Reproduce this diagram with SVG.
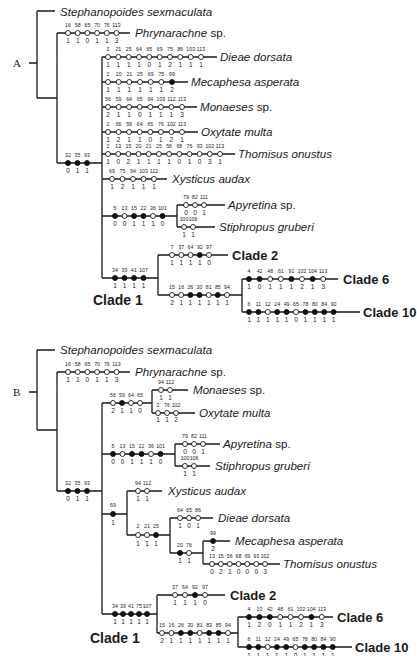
<svg xmlns="http://www.w3.org/2000/svg" width="417" height="656" viewBox="0 0 417 656">
<style>
.ln{stroke:#1a1a1a;stroke-width:1.3;fill:none}
.o{fill:#fff;stroke:#1a1a1a;stroke-width:0.9}
.f{fill:#111;stroke:#111;stroke-width:0.9}
text{font-family:"Liberation Sans",Arial,sans-serif;fill:#1a1a1a}
.n{font-size:5.2px;text-anchor:middle}
.v{font-size:6.5px;text-anchor:middle}
.t{font-size:11.6px;font-style:italic}
.c{font-size:13px;font-weight:bold}
.c1{font-size:14px;font-weight:bold}
.lab{font-family:"Liberation Serif","Times New Roman",serif;font-size:11px}
</style>
<rect width="417" height="656" fill="#fff"/>

<!-- ================= TREE A ================= -->
<g id="A-connectors">
<path class="ln" d="M29 63H37M37 11V98M37 11H55M37 98H57M57 33V163M57 33H130M102 57V278M57 163H102
M102 57H217M102 82H188M102 107H197M102 132H198M102 154H235M102 179H167
M102 216H177M177 205V227M177 205H225M177 227H215
M102 278H158M158 255V295M158 255H228M158 295H242M242 279V312M242 279H338M242 312H360"/>
</g>
<text class="lab" x="13" y="67">A</text>

<g id="A-stephanopoides"><text class="t" x="60" y="15.5">Stephanopoides sexmaculata</text></g>

<g id="A-phrynarachne">
<circle class="o" cx="68" cy="33" r="2.5"/><circle class="o" cx="77.7" cy="33" r="2.5"/><circle class="o" cx="87.4" cy="33" r="2.5"/><circle class="o" cx="97.1" cy="33" r="2.5"/><circle class="o" cx="106.8" cy="33" r="2.5"/><circle class="o" cx="116.5" cy="33" r="2.5"/>
<text class="n" y="27"><tspan x="68">16</tspan><tspan x="77.7">58</tspan><tspan x="87.4">65</tspan><tspan x="97.1">70</tspan><tspan x="106.8">76</tspan><tspan x="116.5">113</tspan></text>
<text class="v" y="43"><tspan x="68">1</tspan><tspan x="77.7">1</tspan><tspan x="87.4">0</tspan><tspan x="97.1">1</tspan><tspan x="106.8">1</tspan><tspan x="116.5">3</tspan></text>
<text class="t" x="135" y="37"><tspan>Phrynarachne</tspan><tspan font-style="normal"> sp.</tspan></text>
</g>

<g id="A-dieae">
<circle class="o" cx="108" cy="57" r="2.5"/><circle class="o" cx="118.3" cy="57" r="2.5"/><circle class="o" cx="128.7" cy="57" r="2.5"/><circle class="o" cx="139" cy="57" r="2.5"/><circle class="o" cx="149.3" cy="57" r="2.5"/><circle class="o" cx="159.7" cy="57" r="2.5"/><circle class="o" cx="170" cy="57" r="2.5"/><circle class="o" cx="180.3" cy="57" r="2.5"/><circle class="o" cx="190.7" cy="57" r="2.5"/><circle class="o" cx="201" cy="57" r="2.5"/>
<text class="n" y="51"><tspan x="108">2</tspan><tspan x="118.3">21</tspan><tspan x="128.7">25</tspan><tspan x="139">64</tspan><tspan x="149.3">65</tspan><tspan x="159.7">69</tspan><tspan x="170">75</tspan><tspan x="180.3">86</tspan><tspan x="190.7">103</tspan><tspan x="201">113</tspan></text>
<text class="v" y="67"><tspan x="108">1</tspan><tspan x="118.3">1</tspan><tspan x="128.7">1</tspan><tspan x="139">1</tspan><tspan x="149.3">0</tspan><tspan x="159.7">1</tspan><tspan x="170">2</tspan><tspan x="180.3">1</tspan><tspan x="190.7">1</tspan><tspan x="201">1</tspan></text>
<text class="t" x="220" y="61">Dieae dorsata</text>
</g>

<g id="A-mecaphesa">
<circle class="o" cx="108" cy="82" r="2.5"/><circle class="o" cx="118.7" cy="82" r="2.5"/><circle class="o" cx="129.3" cy="82" r="2.5"/><circle class="o" cx="140" cy="82" r="2.5"/><circle class="o" cx="150.7" cy="82" r="2.5"/><circle class="o" cx="161.3" cy="82" r="2.5"/><circle class="f" cx="172" cy="82" r="2.5"/>
<text class="n" y="76"><tspan x="108">2</tspan><tspan x="118.7">20</tspan><tspan x="129.3">21</tspan><tspan x="140">25</tspan><tspan x="150.7">69</tspan><tspan x="161.3">75</tspan><tspan x="172">99</tspan></text>
<text class="v" y="92"><tspan x="108">1</tspan><tspan x="118.7">1</tspan><tspan x="129.3">1</tspan><tspan x="140">1</tspan><tspan x="150.7">1</tspan><tspan x="161.3">1</tspan><tspan x="172">2</tspan></text>
<text class="t" x="191" y="86">Mecaphesa asperata</text>
</g>

<g id="A-monaeses">
<circle class="o" cx="108" cy="107" r="2.5"/><circle class="o" cx="118.6" cy="107" r="2.5"/><circle class="o" cx="129.1" cy="107" r="2.5"/><circle class="o" cx="139.7" cy="107" r="2.5"/><circle class="o" cx="150.3" cy="107" r="2.5"/><circle class="o" cx="160.9" cy="107" r="2.5"/><circle class="o" cx="171.4" cy="107" r="2.5"/><circle class="o" cx="182" cy="107" r="2.5"/>
<text class="n" y="101"><tspan x="108">56</tspan><tspan x="118.6">59</tspan><tspan x="129.1">64</tspan><tspan x="139.7">65</tspan><tspan x="150.3">94</tspan><tspan x="160.9">103</tspan><tspan x="171.4">112</tspan><tspan x="182">113</tspan></text>
<text class="v" y="117"><tspan x="108">2</tspan><tspan x="118.6">1</tspan><tspan x="129.1">1</tspan><tspan x="139.7">0</tspan><tspan x="150.3">1</tspan><tspan x="160.9">1</tspan><tspan x="171.4">1</tspan><tspan x="182">3</tspan></text>
<text class="t" x="200" y="111"><tspan>Monaeses</tspan><tspan font-style="normal"> sp.</tspan></text>
</g>

<g id="A-oxytate">
<circle class="o" cx="108" cy="132" r="2.5"/><circle class="o" cx="118.6" cy="132" r="2.5"/><circle class="o" cx="129.1" cy="132" r="2.5"/><circle class="o" cx="139.7" cy="132" r="2.5"/><circle class="o" cx="150.3" cy="132" r="2.5"/><circle class="o" cx="160.9" cy="132" r="2.5"/><circle class="o" cx="171.4" cy="132" r="2.5"/><circle class="o" cx="182" cy="132" r="2.5"/>
<text class="n" y="126"><tspan x="108">2</tspan><tspan x="118.6">56</tspan><tspan x="129.1">59</tspan><tspan x="139.7">64</tspan><tspan x="150.3">65</tspan><tspan x="160.9">76</tspan><tspan x="171.4">102</tspan><tspan x="182">113</tspan></text>
<text class="v" y="142"><tspan x="108">1</tspan><tspan x="118.6">2</tspan><tspan x="129.1">1</tspan><tspan x="139.7">1</tspan><tspan x="150.3">0</tspan><tspan x="160.9">1</tspan><tspan x="171.4">2</tspan><tspan x="182">1</tspan></text>
<text class="t" x="201" y="136">Oxytate multa</text>
</g>

<g id="A-thomisus">
<circle class="o" cx="108" cy="154" r="2.5"/><circle class="o" cx="118.2" cy="154" r="2.5"/><circle class="o" cx="128.4" cy="154" r="2.5"/><circle class="o" cx="138.5" cy="154" r="2.5"/><circle class="o" cx="148.7" cy="154" r="2.5"/><circle class="o" cx="158.9" cy="154" r="2.5"/><circle class="o" cx="169.1" cy="154" r="2.5"/><circle class="o" cx="179.3" cy="154" r="2.5"/><circle class="o" cx="189.5" cy="154" r="2.5"/><circle class="o" cx="199.6" cy="154" r="2.5"/><circle class="o" cx="209.8" cy="154" r="2.5"/><circle class="o" cx="220" cy="154" r="2.5"/>
<text class="n" y="148"><tspan x="108">2</tspan><tspan x="118.2">13</tspan><tspan x="128.4">15</tspan><tspan x="138.5">20</tspan><tspan x="148.7">21</tspan><tspan x="158.9">25</tspan><tspan x="169.1">56</tspan><tspan x="179.3">68</tspan><tspan x="189.5">76</tspan><tspan x="199.6">93</tspan><tspan x="209.8">102</tspan><tspan x="220">113</tspan></text>
<text class="v" y="164"><tspan x="108">1</tspan><tspan x="118.2">0</tspan><tspan x="128.4">2</tspan><tspan x="138.5">1</tspan><tspan x="148.7">1</tspan><tspan x="158.9">1</tspan><tspan x="169.1">1</tspan><tspan x="179.3">0</tspan><tspan x="189.5">1</tspan><tspan x="199.6">0</tspan><tspan x="209.8">3</tspan><tspan x="220">1</tspan></text>
<text class="t" x="238" y="158">Thomisus onustus</text>
</g>

<g id="A-node-32-35-93">
<circle class="f" cx="68" cy="163" r="2.5"/><circle class="f" cx="77.5" cy="163" r="2.5"/><circle class="f" cx="87" cy="163" r="2.5"/>
<text class="n" y="157"><tspan x="68">32</tspan><tspan x="77.5">35</tspan><tspan x="87">93</tspan></text>
<text class="v" y="173"><tspan x="68">0</tspan><tspan x="77.5">1</tspan><tspan x="87">1</tspan></text>
</g>

<g id="A-xysticus">
<circle class="o" cx="112" cy="179" r="2.5"/><circle class="o" cx="122.5" cy="179" r="2.5"/><circle class="o" cx="133" cy="179" r="2.5"/><circle class="o" cx="143.5" cy="179" r="2.5"/><circle class="o" cx="154" cy="179" r="2.5"/>
<text class="n" y="173"><tspan x="112">69</tspan><tspan x="122.5">75</tspan><tspan x="133">94</tspan><tspan x="143.5">103</tspan><tspan x="154">112</tspan></text>
<text class="v" y="189"><tspan x="112">1</tspan><tspan x="122.5">2</tspan><tspan x="133">1</tspan><tspan x="143.5">1</tspan><tspan x="154">1</tspan></text>
<text class="t" x="172" y="183">Xysticus audax</text>
</g>

<g id="A-node-5-101">
<circle class="f" cx="115" cy="216" r="2.5"/><circle class="o" cx="124.5" cy="216" r="2.5"/><circle class="f" cx="134" cy="216" r="2.5"/><circle class="f" cx="143.5" cy="216" r="2.5"/><circle class="o" cx="153" cy="216" r="2.5"/><circle class="f" cx="162.5" cy="216" r="2.5"/>
<text class="n" y="210"><tspan x="115">5</tspan><tspan x="124.5">13</tspan><tspan x="134">15</tspan><tspan x="143.5">22</tspan><tspan x="153">36</tspan><tspan x="162.5">101</tspan></text>
<text class="v" y="226"><tspan x="115">0</tspan><tspan x="124.5">0</tspan><tspan x="134">1</tspan><tspan x="143.5">1</tspan><tspan x="153">1</tspan><tspan x="162.5">0</tspan></text>
</g>

<g id="A-apyretina">
<circle class="o" cx="186" cy="205" r="2.5"/><circle class="o" cx="195" cy="205" r="2.5"/><circle class="o" cx="204" cy="205" r="2.5"/>
<text class="n" y="199"><tspan x="186">79</tspan><tspan x="195">82</tspan><tspan x="204">111</tspan></text>
<text class="v" y="215"><tspan x="186">0</tspan><tspan x="195">0</tspan><tspan x="204">1</tspan></text>
<text class="t" x="228" y="209"><tspan>Apyretina</tspan><tspan font-style="normal"> sp.</tspan></text>
</g>

<g id="A-stiphropus">
<circle class="o" cx="184" cy="227" r="2.5"/><circle class="o" cx="193" cy="227" r="2.5"/>
<text class="n" y="221"><tspan x="184">100</tspan><tspan x="193">106</tspan></text>
<text class="v" y="237"><tspan x="184">1</tspan><tspan x="193">1</tspan></text>
<text class="t" x="219" y="231">Stiphropus gruberi</text>
</g>

<g id="A-clade1">
<circle class="f" cx="115" cy="278" r="2.5"/><circle class="f" cx="124.5" cy="278" r="2.5"/><circle class="f" cx="134" cy="278" r="2.5"/><circle class="f" cx="143.5" cy="278" r="2.5"/>
<text class="n" y="272"><tspan x="115">34</tspan><tspan x="124.5">39</tspan><tspan x="134">41</tspan><tspan x="143.5">107</tspan></text>
<text class="v" y="288"><tspan x="115">1</tspan><tspan x="124.5">1</tspan><tspan x="134">1</tspan><tspan x="143.5">1</tspan></text>
<text class="c1" x="93" y="305">Clade 1</text>
</g>

<g id="A-clade2">
<circle class="o" cx="172" cy="255" r="2.5"/><circle class="o" cx="181.3" cy="255" r="2.5"/><circle class="o" cx="190.5" cy="255" r="2.5"/><circle class="f" cx="199.8" cy="255" r="2.5"/><circle class="o" cx="209" cy="255" r="2.5"/>
<text class="n" y="249"><tspan x="172">7</tspan><tspan x="181.3">37</tspan><tspan x="190.5">64</tspan><tspan x="199.8">92</tspan><tspan x="209">97</tspan></text>
<text class="v" y="265"><tspan x="172">1</tspan><tspan x="181.3">1</tspan><tspan x="190.5">1</tspan><tspan x="199.8">1</tspan><tspan x="209">0</tspan></text>
<text class="c" x="232" y="259.7">Clade 2</text>
</g>

<g id="A-node-15-94">
<circle class="o" cx="172" cy="295" r="2.5"/><circle class="o" cx="181.2" cy="295" r="2.5"/><circle class="f" cx="190.3" cy="295" r="2.5"/><circle class="f" cx="199.5" cy="295" r="2.5"/><circle class="o" cx="208.7" cy="295" r="2.5"/><circle class="f" cx="217.8" cy="295" r="2.5"/><circle class="o" cx="227" cy="295" r="2.5"/>
<text class="n" y="289"><tspan x="172">15</tspan><tspan x="181.2">16</tspan><tspan x="190.3">26</tspan><tspan x="199.5">30</tspan><tspan x="208.7">81</tspan><tspan x="217.8">85</tspan><tspan x="227">94</tspan></text>
<text class="v" y="305"><tspan x="172">2</tspan><tspan x="181.2">1</tspan><tspan x="190.3">1</tspan><tspan x="199.5">1</tspan><tspan x="208.7">1</tspan><tspan x="217.8">1</tspan><tspan x="227">1</tspan></text>
</g>

<g id="A-clade6">
<circle class="f" cx="249" cy="279" r="2.5"/><circle class="f" cx="259.6" cy="279" r="2.5"/><circle class="o" cx="270.2" cy="279" r="2.5"/><circle class="o" cx="280.8" cy="279" r="2.5"/><circle class="f" cx="291.4" cy="279" r="2.5"/><circle class="o" cx="302" cy="279" r="2.5"/><circle class="f" cx="312.6" cy="279" r="2.5"/><circle class="o" cx="323.2" cy="279" r="2.5"/>
<text class="n" y="273"><tspan x="249">4</tspan><tspan x="259.6">42</tspan><tspan x="270.2">48</tspan><tspan x="280.8">61</tspan><tspan x="291.4">91</tspan><tspan x="302">102</tspan><tspan x="312.6">104</tspan><tspan x="323.2">113</tspan></text>
<text class="v" y="289"><tspan x="249">1</tspan><tspan x="259.6">0</tspan><tspan x="270.2">1</tspan><tspan x="280.8">1</tspan><tspan x="291.4">1</tspan><tspan x="302">2</tspan><tspan x="312.6">1</tspan><tspan x="323.2">3</tspan></text>
<text class="c" x="343" y="283.7">Clade 6</text>
</g>

<g id="A-clade10">
<circle class="f" cx="249" cy="312" r="2.5"/><circle class="f" cx="258.4" cy="312" r="2.5"/><circle class="o" cx="267.8" cy="312" r="2.5"/><circle class="f" cx="277.2" cy="312" r="2.5"/><circle class="f" cx="286.6" cy="312" r="2.5"/><circle class="o" cx="296" cy="312" r="2.5"/><circle class="f" cx="305.4" cy="312" r="2.5"/><circle class="f" cx="314.8" cy="312" r="2.5"/><circle class="f" cx="324.2" cy="312" r="2.5"/><circle class="f" cx="333.6" cy="312" r="2.5"/>
<text class="n" y="306"><tspan x="249">6</tspan><tspan x="258.4">11</tspan><tspan x="267.8">12</tspan><tspan x="277.2">24</tspan><tspan x="286.6">49</tspan><tspan x="296">65</tspan><tspan x="305.4">78</tspan><tspan x="314.8">80</tspan><tspan x="324.2">84</tspan><tspan x="333.6">90</tspan></text>
<text class="v" y="322"><tspan x="249">1</tspan><tspan x="258.4">1</tspan><tspan x="267.8">1</tspan><tspan x="277.2">1</tspan><tspan x="286.6">1</tspan><tspan x="296">0</tspan><tspan x="305.4">1</tspan><tspan x="314.8">1</tspan><tspan x="324.2">1</tspan><tspan x="333.6">1</tspan></text>
<text class="c" x="363" y="316.7">Clade 10</text>
</g>

<!-- ================= TREE B ================= -->
<g id="B-connectors">
<path class="ln" d="M29 392H37M37 350V430M37 350H55M37 430H57M57 372V491M57 372H130M57 491H102M102 403V614
M102 403H152M152 390V413M152 390H188M152 413H195
M102 454H175M175 444V466M175 444H220M175 466H210
M102 514H127M127 491V535M127 491H162M127 535H170M170 518V553M170 518H213M170 553H203M203 541V564M203 541H230M203 564H280
M102 614H157M157 595V633M157 595H225M157 633H238M238 617V647M238 617H333M238 647H352"/>
</g>
<text class="lab" x="13" y="396">B</text>

<g id="B-stephanopoides"><text class="t" x="60" y="354">Stephanopoides sexmaculata</text></g>

<g id="B-phrynarachne">
<circle class="o" cx="68" cy="372" r="2.5"/><circle class="o" cx="77.7" cy="372" r="2.5"/><circle class="o" cx="87.4" cy="372" r="2.5"/><circle class="o" cx="97.1" cy="372" r="2.5"/><circle class="o" cx="106.8" cy="372" r="2.5"/><circle class="o" cx="116.5" cy="372" r="2.5"/>
<text class="n" y="366"><tspan x="68">16</tspan><tspan x="77.7">58</tspan><tspan x="87.4">65</tspan><tspan x="97.1">70</tspan><tspan x="106.8">76</tspan><tspan x="116.5">113</tspan></text>
<text class="v" y="382"><tspan x="68">1</tspan><tspan x="77.7">1</tspan><tspan x="87.4">0</tspan><tspan x="97.1">1</tspan><tspan x="106.8">1</tspan><tspan x="116.5">3</tspan></text>
<text class="t" x="135" y="376"><tspan>Phrynarachne</tspan><tspan font-style="normal"> sp.</tspan></text>
</g>

<g id="B-node-56-65">
<circle class="o" cx="113" cy="403" r="2.5"/><circle class="f" cx="122" cy="403" r="2.5"/><circle class="o" cx="131" cy="403" r="2.5"/><circle class="o" cx="140" cy="403" r="2.5"/>
<text class="n" y="397"><tspan x="113">56</tspan><tspan x="122">59</tspan><tspan x="131">64</tspan><tspan x="140">65</tspan></text>
<text class="v" y="413"><tspan x="113">2</tspan><tspan x="122">1</tspan><tspan x="131">1</tspan><tspan x="140">0</tspan></text>
</g>

<g id="B-monaeses">
<circle class="o" cx="161" cy="390" r="2.5"/><circle class="o" cx="170" cy="390" r="2.5"/>
<text class="n" y="384"><tspan x="161">94</tspan><tspan x="170">112</tspan></text>
<text class="v" y="400"><tspan x="161">1</tspan><tspan x="170">1</tspan></text>
<text class="t" x="193" y="394"><tspan>Monaeses</tspan><tspan font-style="normal"> sp.</tspan></text>
</g>

<g id="B-oxytate">
<circle class="o" cx="158" cy="413" r="2.5"/><circle class="o" cx="167" cy="413" r="2.5"/><circle class="o" cx="176" cy="413" r="2.5"/>
<text class="n" y="407"><tspan x="158">2</tspan><tspan x="167">76</tspan><tspan x="176">102</tspan></text>
<text class="v" y="422"><tspan x="158">1</tspan><tspan x="167">1</tspan><tspan x="176">2</tspan></text>
<text class="t" x="199" y="417">Oxytate multa</text>
</g>

<g id="B-node-5-101">
<circle class="f" cx="113" cy="454" r="2.5"/><circle class="o" cx="122.5" cy="454" r="2.5"/><circle class="f" cx="132" cy="454" r="2.5"/><circle class="f" cx="141.5" cy="454" r="2.5"/><circle class="o" cx="151" cy="454" r="2.5"/><circle class="f" cx="160.5" cy="454" r="2.5"/>
<text class="n" y="448"><tspan x="113">5</tspan><tspan x="122.5">13</tspan><tspan x="132">15</tspan><tspan x="141.5">22</tspan><tspan x="151">36</tspan><tspan x="160.5">101</tspan></text>
<text class="v" y="464"><tspan x="113">0</tspan><tspan x="122.5">0</tspan><tspan x="132">1</tspan><tspan x="141.5">1</tspan><tspan x="151">1</tspan><tspan x="160.5">0</tspan></text>
</g>

<g id="B-apyretina">
<circle class="o" cx="185" cy="444" r="2.5"/><circle class="o" cx="194" cy="444" r="2.5"/><circle class="o" cx="203" cy="444" r="2.5"/>
<text class="n" y="438"><tspan x="185">79</tspan><tspan x="194">82</tspan><tspan x="203">111</tspan></text>
<text class="v" y="454"><tspan x="185">0</tspan><tspan x="194">0</tspan><tspan x="203">1</tspan></text>
<text class="t" x="223" y="448"><tspan>Apyretina</tspan><tspan font-style="normal"> sp.</tspan></text>
</g>

<g id="B-stiphropus">
<circle class="o" cx="185" cy="466" r="2.5"/><circle class="o" cx="194" cy="466" r="2.5"/>
<text class="n" y="460"><tspan x="185">100</tspan><tspan x="194">106</tspan></text>
<text class="v" y="476"><tspan x="185">1</tspan><tspan x="194">1</tspan></text>
<text class="t" x="215" y="470">Stiphropus gruberi</text>
</g>

<g id="B-node-32-35-93">
<circle class="f" cx="68" cy="491" r="2.5"/><circle class="f" cx="77.5" cy="491" r="2.5"/><circle class="f" cx="87" cy="491" r="2.5"/>
<text class="n" y="485"><tspan x="68">32</tspan><tspan x="77.5">35</tspan><tspan x="87">93</tspan></text>
<text class="v" y="501"><tspan x="68">0</tspan><tspan x="77.5">1</tspan><tspan x="87">1</tspan></text>
</g>

<g id="B-node-69">
<circle class="f" cx="113" cy="514" r="2.5"/>
<text class="n" x="113" y="507">69</text>
<text class="v" x="113" y="525">1</text>
</g>

<g id="B-xysticus">
<circle class="o" cx="138" cy="491" r="2.5"/><circle class="o" cx="147" cy="491" r="2.5"/>
<text class="n" y="485"><tspan x="138">94</tspan><tspan x="147">112</tspan></text>
<text class="v" y="501"><tspan x="138">1</tspan><tspan x="147">1</tspan></text>
<text class="t" x="168" y="495">Xysticus audax</text>
</g>

<g id="B-node-2-21-25">
<circle class="o" cx="138" cy="535" r="2.5"/><circle class="o" cx="147" cy="535" r="2.5"/><circle class="f" cx="156" cy="535" r="2.5"/>
<text class="n" y="528"><tspan x="138">2</tspan><tspan x="147">21</tspan><tspan x="156">25</tspan></text>
<text class="v" y="546"><tspan x="138">1</tspan><tspan x="147">1</tspan><tspan x="156">1</tspan></text>
</g>

<g id="B-dieae">
<circle class="o" cx="180" cy="518" r="2.5"/><circle class="o" cx="189" cy="518" r="2.5"/><circle class="o" cx="198" cy="518" r="2.5"/>
<text class="n" y="512"><tspan x="180">64</tspan><tspan x="189">65</tspan><tspan x="198">86</tspan></text>
<text class="v" y="528"><tspan x="180">1</tspan><tspan x="189">0</tspan><tspan x="198">1</tspan></text>
<text class="t" x="218" y="522">Dieae dorsata</text>
</g>

<g id="B-node-20-76">
<circle class="f" cx="180" cy="553" r="2.5"/><circle class="o" cx="189" cy="553" r="2.5"/>
<text class="n" y="547"><tspan x="180">20</tspan><tspan x="189">76</tspan></text>
<text class="v" y="563"><tspan x="180">1</tspan><tspan x="189">1</tspan></text>
</g>

<g id="B-mecaphesa">
<circle class="f" cx="213" cy="541" r="2.5"/>
<text class="n" x="213" y="535">99</text>
<text class="v" x="213" y="551">2</text>
<text class="t" x="235" y="545">Mecaphesa asperata</text>
</g>

<g id="B-thomisus">
<circle class="o" cx="212" cy="564" r="2.5"/><circle class="o" cx="220.8" cy="564" r="2.5"/><circle class="o" cx="229.7" cy="564" r="2.5"/><circle class="o" cx="238.5" cy="564" r="2.5"/><circle class="o" cx="247.3" cy="564" r="2.5"/><circle class="o" cx="256.2" cy="564" r="2.5"/><circle class="o" cx="265" cy="564" r="2.5"/>
<text class="n" y="558"><tspan x="212">13</tspan><tspan x="220.8">15</tspan><tspan x="229.7">56</tspan><tspan x="238.5">68</tspan><tspan x="247.3">69</tspan><tspan x="256.2">93</tspan><tspan x="265">102</tspan></text>
<text class="v" y="574"><tspan x="212">0</tspan><tspan x="220.8">2</tspan><tspan x="229.7">1</tspan><tspan x="238.5">0</tspan><tspan x="247.3">0</tspan><tspan x="256.2">0</tspan><tspan x="265">3</tspan></text>
<text class="t" x="283" y="568">Thomisus onustus</text>
</g>

<g id="B-clade1">
<circle class="f" cx="115" cy="614" r="2.5"/><circle class="f" cx="123" cy="614" r="2.5"/><circle class="f" cx="131" cy="614" r="2.5"/><circle class="f" cx="139" cy="614" r="2.5"/><circle class="f" cx="147" cy="614" r="2.5"/>
<text class="n" y="608"><tspan x="115">34</tspan><tspan x="123">39</tspan><tspan x="131">41</tspan><tspan x="139">75</tspan><tspan x="147">107</tspan></text>
<text class="v" y="624"><tspan x="115">1</tspan><tspan x="123">1</tspan><tspan x="131">1</tspan><tspan x="139">1</tspan><tspan x="147">1</tspan></text>
<text class="c1" x="90" y="643">Clade 1</text>
</g>

<g id="B-clade2">
<circle class="o" cx="175" cy="595" r="2.5"/><circle class="o" cx="185" cy="595" r="2.5"/><circle class="f" cx="195" cy="595" r="2.5"/><circle class="o" cx="205" cy="595" r="2.5"/>
<text class="n" y="589"><tspan x="175">37</tspan><tspan x="185">64</tspan><tspan x="195">92</tspan><tspan x="205">97</tspan></text>
<text class="v" y="605"><tspan x="175">1</tspan><tspan x="185">1</tspan><tspan x="195">1</tspan><tspan x="205">0</tspan></text>
<text class="c" x="230" y="599.7">Clade 2</text>
</g>

<g id="B-node-15-94">
<circle class="o" cx="162" cy="633" r="2.5"/><circle class="o" cx="171.4" cy="633" r="2.5"/><circle class="f" cx="180.9" cy="633" r="2.5"/><circle class="f" cx="190.3" cy="633" r="2.5"/><circle class="o" cx="199.7" cy="633" r="2.5"/><circle class="f" cx="209.1" cy="633" r="2.5"/><circle class="f" cx="218.6" cy="633" r="2.5"/><circle class="o" cx="228" cy="633" r="2.5"/>
<text class="n" y="627"><tspan x="162">15</tspan><tspan x="171.4">16</tspan><tspan x="180.9">26</tspan><tspan x="190.3">30</tspan><tspan x="199.7">81</tspan><tspan x="209.1">83</tspan><tspan x="218.6">85</tspan><tspan x="228">94</tspan></text>
<text class="v" y="643"><tspan x="162">2</tspan><tspan x="171.4">1</tspan><tspan x="180.9">1</tspan><tspan x="190.3">1</tspan><tspan x="199.7">1</tspan><tspan x="209.1">1</tspan><tspan x="218.6">1</tspan><tspan x="228">1</tspan></text>
</g>

<g id="B-clade6">
<circle class="f" cx="249" cy="617" r="2.5"/><circle class="f" cx="259.4" cy="617" r="2.5"/><circle class="f" cx="269.8" cy="617" r="2.5"/><circle class="o" cx="280.2" cy="617" r="2.5"/><circle class="o" cx="290.6" cy="617" r="2.5"/><circle class="o" cx="301" cy="617" r="2.5"/><circle class="f" cx="311.4" cy="617" r="2.5"/><circle class="o" cx="321.8" cy="617" r="2.5"/>
<text class="n" y="611"><tspan x="249">4</tspan><tspan x="259.4">10</tspan><tspan x="269.8">42</tspan><tspan x="280.2">48</tspan><tspan x="290.6">61</tspan><tspan x="301">102</tspan><tspan x="311.4">104</tspan><tspan x="321.8">113</tspan></text>
<text class="v" y="627"><tspan x="249">1</tspan><tspan x="259.4">2</tspan><tspan x="269.8">0</tspan><tspan x="280.2">1</tspan><tspan x="290.6">1</tspan><tspan x="301">2</tspan><tspan x="311.4">1</tspan><tspan x="321.8">3</tspan></text>
<text class="c" x="337" y="621.7">Clade 6</text>
</g>

<g id="B-clade10">
<circle class="f" cx="249" cy="647" r="2.5"/><circle class="f" cx="258.3" cy="647" r="2.5"/><circle class="o" cx="267.6" cy="647" r="2.5"/><circle class="f" cx="276.9" cy="647" r="2.5"/><circle class="f" cx="286.2" cy="647" r="2.5"/><circle class="o" cx="295.5" cy="647" r="2.5"/><circle class="f" cx="304.8" cy="647" r="2.5"/><circle class="f" cx="314.1" cy="647" r="2.5"/><circle class="f" cx="323.4" cy="647" r="2.5"/><circle class="f" cx="332.7" cy="647" r="2.5"/>
<text class="n" y="641"><tspan x="249">6</tspan><tspan x="258.3">11</tspan><tspan x="267.6">12</tspan><tspan x="276.9">24</tspan><tspan x="286.2">49</tspan><tspan x="295.5">65</tspan><tspan x="304.8">78</tspan><tspan x="314.1">80</tspan><tspan x="323.4">84</tspan><tspan x="332.7">90</tspan></text>
<text class="v" y="657.5"><tspan x="249">1</tspan><tspan x="258.3">1</tspan><tspan x="267.6">1</tspan><tspan x="276.9">1</tspan><tspan x="286.2">1</tspan><tspan x="295.5">0</tspan><tspan x="304.8">1</tspan><tspan x="314.1">1</tspan><tspan x="323.4">1</tspan><tspan x="332.7">1</tspan></text>
<text class="c" x="355" y="651.7">Clade 10</text>
</g>
</svg>
